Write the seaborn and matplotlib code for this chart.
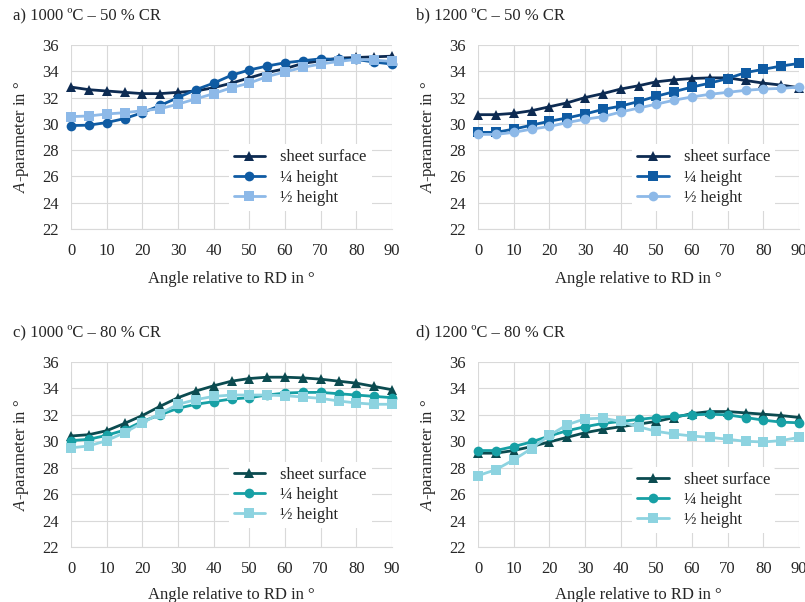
import numpy as np
import pandas as pd
import matplotlib.pyplot as plt
import seaborn as sns

# angles (deg relative to RD)
angles = list(range(0, 95, 5))
layers = ['sheet surface', '¼ height', '½ height']

# a) 1000 ºC - 50 % CR
a_surface = [32.8, 32.6, 32.5, 32.4, 32.3, 32.3, 32.4, 32.5, 32.75, 33.1, 33.5, 33.9, 34.2, 34.6, 34.8, 35.0, 35.05, 35.1, 35.15]
a_quarter = [29.87, 29.9, 30.1, 30.4, 30.85, 31.4, 32.0, 32.6, 33.1, 33.7, 34.1, 34.4, 34.65, 34.8, 34.95, 34.9, 34.9, 34.7, 34.55]
a_half = [30.55, 30.6, 30.75, 30.85, 31.0, 31.15, 31.5, 31.9, 32.3, 32.75, 33.1, 33.6, 33.95, 34.3, 34.55, 34.75, 34.9, 34.85, 34.75]

# b) 1200 ºC - 50 % CR
b_surface = [30.7, 30.7, 30.8, 31.0, 31.3, 31.6, 32.0, 32.3, 32.65, 32.9, 33.2, 33.35, 33.45, 33.5, 33.5, 33.3, 33.1, 32.95, 32.75]
b_quarter = [29.35, 29.35, 29.6, 29.9, 30.2, 30.45, 30.75, 31.1, 31.35, 31.7, 32.1, 32.45, 32.8, 33.1, 33.45, 33.9, 34.15, 34.4, 34.6]
b_half = [29.2, 29.2, 29.35, 29.6, 29.8, 30.1, 30.35, 30.55, 30.9, 31.2, 31.5, 31.8, 32.05, 32.25, 32.4, 32.55, 32.65, 32.7, 32.8]

# c) 1000 ºC - 80 % CR
c_surface = [30.4, 30.5, 30.8, 31.35, 31.95, 32.65, 33.3, 33.8, 34.2, 34.55, 34.75, 34.85, 34.85, 34.8, 34.7, 34.55, 34.4, 34.15, 33.9]
c_quarter = [30.05, 30.15, 30.45, 30.85, 31.5, 32.0, 32.5, 32.8, 33.0, 33.2, 33.3, 33.5, 33.65, 33.7, 33.7, 33.6, 33.5, 33.4, 33.3]
c_half = [29.5, 29.65, 30.05, 30.65, 31.4, 32.1, 32.8, 33.15, 33.4, 33.5, 33.5, 33.5, 33.45, 33.35, 33.25, 33.05, 32.9, 32.8, 32.8]

# d) 1200 ºC - 80 % CR
d_surface = [29.1, 29.1, 29.3, 29.6, 29.95, 30.3, 30.65, 30.9, 31.1, 31.3, 31.5, 31.8, 32.1, 32.25, 32.25, 32.15, 32.05, 31.95, 31.8]
d_quarter = [29.3, 29.3, 29.6, 29.95, 30.4, 30.8, 31.1, 31.35, 31.5, 31.65, 31.8, 31.9, 32.0, 32.05, 32.0, 31.8, 31.6, 31.45, 31.4]
d_half = [27.4, 27.85, 28.6, 29.45, 30.45, 31.25, 31.7, 31.75, 31.5, 31.1, 30.75, 30.55, 30.4, 30.3, 30.15, 30.0, 29.95, 30.05, 30.3]

titles = ['a) 1000 ºC – 50 % CR', 'b) 1200 ºC – 50 % CR',
          'c) 1000 ºC – 80 % CR', 'd) 1200 ºC – 80 % CR']
panel_data = [(a_surface, a_quarter, a_half), (b_surface, b_quarter, b_half),
              (c_surface, c_quarter, c_half), (d_surface, d_quarter, d_half)]

blues = ['#0d2b52', '#0f5ba3', '#8db9e8']
teals = ['#0b4b50', '#17a0a5', '#8dd3e0']

sns.set_style('whitegrid', {'grid.color': '#d9d9d9', 'axes.edgecolor': '#d9d9d9'})
plt.rcParams['font.family'] = ['Liberation Serif', 'DejaVu Serif']
plt.rcParams['mathtext.fontset'] = 'custom'
plt.rcParams['mathtext.it'] = 'Liberation Serif:italic'
plt.rcParams['mathtext.rm'] = 'Liberation Serif'
plt.rcParams['font.size'] = 12

fig = plt.figure(figsize=(8.05, 6.02), dpi=100)
W, H = 805, 602
# axes boxes in pixels: left, top, right, bottom
boxes = [(71, 45, 392, 229), (478, 45, 799, 229),
         (71, 362, 392, 547), (478, 362, 799, 547)]
title_pos = [(13, 15), (416, 15), (13, 332), (416, 332)]
legend_y = [0.505, 0.505, 0.505, 0.48]
legend_x = [0.465, 0.455, 0.465, 0.455]

for i in range(4):
    l, t, r, b = boxes[i]
    ax = fig.add_axes([l / W, 1 - b / H, (r - l) / W, (b - t) / H])
    s, q, h = panel_data[i]
    df = pd.DataFrame({
        'angle': angles * 3,
        'A': s + q + h,
        'layer': [layers[0]] * 19 + [layers[1]] * 19 + [layers[2]] * 19,
    })
    pal = blues if i < 2 else teals
    if i == 1:
        mk = {layers[0]: '^', layers[1]: 's', layers[2]: 'o'}
    else:
        mk = {layers[0]: '^', layers[1]: 'o', layers[2]: 's'}
    sns.lineplot(data=df, x='angle', y='A', hue='layer', style='layer',
                 palette=dict(zip(layers, pal)), markers=mk, dashes=False,
                 linewidth=2.0, markersize=7, markeredgewidth=0, ax=ax)
    ax.set_xlim(0, 90)
    ax.set_ylim(22, 36)
    ax.set_xticks(range(0, 91, 10))
    ax.set_yticks(range(22, 37, 2))
    ax.tick_params(axis='both', length=0, labelsize=12)
    ax.tick_params(axis='y', pad=9)
    ax.tick_params(axis='x', pad=10)
    for sp in ['top', 'right', 'left']:
        ax.spines[sp].set_visible(False)
    ax.spines['bottom'].set_color('#d9d9d9')
    ax.set_xlabel('Angle relative to RD in °', fontsize=12,
                  labelpad=9 if i < 2 else 7)
    ax.set_ylabel('$A$-parameter in °', fontsize=12, labelpad=8)
    for ln in ax.lines:
        ln.set_clip_on(False)
    handles, labels = ax.get_legend_handles_labels()
    ax.legend(handles, labels, loc='upper left',
              bbox_to_anchor=(legend_x[i], legend_y[i]),
              frameon=True, facecolor='white', edgecolor='none', framealpha=1,
              fontsize=12, handlelength=1.9, handletextpad=0.9,
              labelspacing=0.25, borderpad=0.3)
    fig.text(title_pos[i][0] / W, 1 - title_pos[i][1] / H, titles[i],
             fontsize=12, va='center', ha='left')

fig.savefig('out.png', dpi=100)
